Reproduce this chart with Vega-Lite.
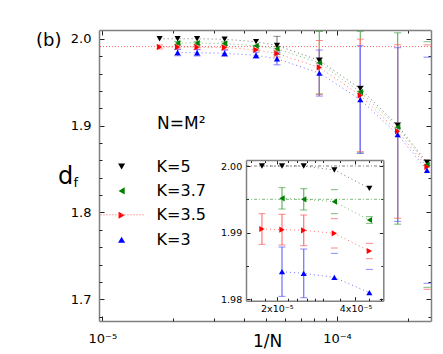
{
  "$schema": "https://vega.github.io/schema/vega-lite/v6.json",
  "width": 332,
  "height": 291,
  "autosize": {"type": "none"},
  "padding": {"left": 99, "top": 30, "right": 12, "bottom": 33},
  "background": "white",
  "config": {
    "view": {"stroke": null},
    "font": "DejaVu Sans",
    "axis": {"grid": false, "labelColor": "black", "tickColor": "#222222", "domainColor": "#808080", "domainWidth": 1.5, "labelFontSize": 13, "titleFontWeight": "normal", "titleColor": "black", "labelFlush": false}
  },
  "title": {"text": "(b)", "anchor": "start", "frame": "group", "orient": "top", "offset": 0, "dx": -63, "dy": 34.5, "baseline": "alphabetic", "fontSize": 18, "fontWeight": "normal", "font": "DejaVu Sans", "color": "black"},
  "datasets": {
    "pts": [
      {"K": "K=5", "x": 1.755e-5, "d": 2.0, "lo": 2.0, "hi": 2.0},
      {"K": "K=5", "x": 2.094e-5, "d": 2.0, "lo": 2.0, "hi": 2.0},
      {"K": "K=5", "x": 2.535e-5, "d": 2.0, "lo": 2.0, "hi": 2.0},
      {"K": "K=5", "x": 3.32e-5, "d": 1.9994, "lo": 1.9994, "hi": 1.9994},
      {"K": "K=5", "x": 4.52e-5, "d": 1.99665, "lo": 1.99665, "hi": 1.99665},
      {"K": "K=5", "x": 5.55e-5, "d": 1.9923, "lo": 1.9818, "hi": 2.0028},
      {"K": "K=5", "x": 8.41e-5, "d": 1.975, "lo": 1.972, "hi": 1.978},
      {"K": "K=5", "x": 1.257e-4, "d": 1.9425, "lo": 1.9395, "hi": 1.9455},
      {"K": "K=5", "x": 1.813e-4, "d": 1.9003, "lo": 1.8973, "hi": 1.9033},
      {"K": "K=5", "x": 2.418e-4, "d": 1.8575, "lo": 1.8545, "hi": 1.8605},
      {"K": "K=3.7", "x": 2.094e-5, "d": 1.99515, "lo": 1.99355, "hi": 1.99675},
      {"K": "K=3.7", "x": 2.535e-5, "d": 1.995, "lo": 1.9934, "hi": 1.9966},
      {"K": "K=3.7", "x": 3.32e-5, "d": 1.99465, "lo": 1.99285, "hi": 1.99645},
      {"K": "K=3.7", "x": 4.52e-5, "d": 1.9919, "lo": 1.9914, "hi": 1.9924},
      {"K": "K=3.7", "x": 5.55e-5, "d": 1.9885, "lo": 1.986, "hi": 1.991},
      {"K": "K=3.7", "x": 8.41e-5, "d": 1.9724, "lo": 1.9364, "hi": 2.0084},
      {"K": "K=3.7", "x": 1.257e-4, "d": 1.9386, "lo": 1.8686, "hi": 2.0086},
      {"K": "K=3.7", "x": 1.813e-4, "d": 1.8984, "lo": 1.7865, "hi": 2.0069},
      {"K": "K=3.7", "x": 2.418e-4, "d": 1.8552, "lo": 1.7138, "hi": 1.9966},
      {"K": "K=3.5", "x": 1.755e-5, "d": 1.99055, "lo": 1.98825, "hi": 1.99285},
      {"K": "K=3.5", "x": 2.094e-5, "d": 1.99045, "lo": 1.98815, "hi": 1.99275},
      {"K": "K=3.5", "x": 2.535e-5, "d": 1.99035, "lo": 1.98805, "hi": 1.99265},
      {"K": "K=3.5", "x": 3.32e-5, "d": 1.9899, "lo": 1.9877, "hi": 1.9921},
      {"K": "K=3.5", "x": 4.52e-5, "d": 1.98725, "lo": 1.9861, "hi": 1.9884},
      {"K": "K=3.5", "x": 5.55e-5, "d": 1.983, "lo": 1.979, "hi": 1.987},
      {"K": "K=3.5", "x": 8.41e-5, "d": 1.967, "lo": 1.936, "hi": 1.998},
      {"K": "K=3.5", "x": 1.257e-4, "d": 1.9348, "lo": 1.87, "hi": 1.9996},
      {"K": "K=3.5", "x": 1.813e-4, "d": 1.8934, "lo": 1.7934, "hi": 1.9931},
      {"K": "K=3.5", "x": 2.418e-4, "d": 1.8524, "lo": 1.7115, "hi": 1.993},
      {"K": "K=3", "x": 2.094e-5, "d": 1.98415, "lo": 1.98045, "hi": 1.98785},
      {"K": "K=3", "x": 2.535e-5, "d": 1.9839, "lo": 1.98025, "hi": 1.98755},
      {"K": "K=3", "x": 3.32e-5, "d": 1.9833, "lo": 1.9797, "hi": 1.9869},
      {"K": "K=3", "x": 4.52e-5, "d": 1.981, "lo": 1.9775, "hi": 1.9845},
      {"K": "K=3", "x": 5.55e-5, "d": 1.977, "lo": 1.97, "hi": 1.984},
      {"K": "K=3", "x": 8.41e-5, "d": 1.9605, "lo": 1.934, "hi": 1.987},
      {"K": "K=3", "x": 1.257e-4, "d": 1.93, "lo": 1.868, "hi": 1.992},
      {"K": "K=3", "x": 1.813e-4, "d": 1.8897, "lo": 1.7897, "hi": 1.9897},
      {"K": "K=3", "x": 2.418e-4, "d": 1.8486, "lo": 1.7184, "hi": 1.9788}
    ],
    "fitMain": [
      {"K": "K=3.5", "f": 1.991, "series": "K=3.5"}
    ],
    "fitInset": [
      {"K": "K=5", "f": 2.0},
      {"K": "K=3.7", "f": 1.995}
    ],
    "note": [
      {"label": "N=M²"}
    ]
  },
  "resolve": {"scale": {"x": "independent", "y": "independent"}},
  "layer": [
    {
      "data": {"name": "pts"},
      "resolve": {"axis": {"x": "independent", "y": "independent"}},
      "layer": [
        {
          "data": {"name": "fitMain"},
          "mark": {"type": "rule", "strokeWidth": 1, "strokeOpacity": 0.6},
          "encoding": {
            "y": {"field": "f", "type": "quantitative", "scale": {"domain": [1.675, 2.0101], "nice": false, "zero": false}, "axis": null},
            "color": {"field": "K", "type": "nominal", "scale": {"domain": ["K=5", "K=3.7", "K=3.5", "K=3"], "range": ["#000000", "#008000", "#ff0000", "#0000ff"]}},
            "strokeDash": {"field": "series", "type": "nominal", "scale": {"domain": ["K=3.5"], "range": [[1, 2]]},
              "legend": {"orient": "none", "legendX": 1, "legendY": 162.3, "title": null, "labelExpr": "''", "symbolType": "stroke", "symbolSize": 1936, "symbolStrokeColor": "#ff6060", "symbolStrokeWidth": 1, "padding": 0}}
          }
        },
        {
          "mark": {"type": "line", "strokeDash": [1, 3], "strokeWidth": 1, "strokeOpacity": 0.55},
          "encoding": {
            "x": {"field": "x", "type": "quantitative", "scale": {"type": "log", "domain": [9.683e-6, 2.5146e-4], "nice": false},
              "axis": {"orient": "bottom", "values": [1e-5, 1e-4], "labelExpr": "datum.value < 5e-5 ? '10⁻⁵' : '10⁻⁴'", "tickSize": -5, "labelPadding": 26, "labelBaseline": "alphabetic", "labelAlign": "center", "labelFontSize": 13, "title": "1/N", "titleFontSize": 17, "titleX": 168, "titleY": 25, "titleBaseline": "alphabetic", "titleAlign": "center"}},
            "y": {"field": "d", "type": "quantitative", "scale": {"domain": [1.675, 2.0101], "nice": false, "zero": false},
              "axis": {"orient": "left", "values": [1.7, 1.8, 1.9, 2.0], "format": ".1f", "tickSize": -5, "labelPadding": 13, "labelFontSize": 13, "labelAlign": "right", "labelBaseline": "middle", "title": "d", "titleFontSize": 24, "titleAngle": 0, "titleX": -34, "titleY": 153, "titleAlign": "center", "titleBaseline": "alphabetic"}},
            "color": {"field": "K", "type": "nominal", "scale": {"domain": ["K=5", "K=3.7", "K=3.5", "K=3"], "range": ["#000000", "#008000", "#ff0000", "#0000ff"]}}
          }
        },
        {
          "transform": [{"filter": "datum.x < 2.2e-4"}],
          "mark": {"type": "rule", "strokeWidth": 1.3},
          "encoding": {
            "x": {"field": "x", "type": "quantitative", "scale": {"type": "log", "domain": [9.683e-6, 2.5146e-4], "nice": false},
              "axis": {"orient": "bottom", "values": [2e-5, 3e-5, 4e-5, 5e-5, 6e-5, 7e-5, 8e-5, 9e-5, 2e-4], "tickSize": -3, "labels": false, "domain": false, "title": null}},
            "y": {"field": "lo", "type": "quantitative", "scale": {"domain": [1.675, 2.0101], "nice": false, "zero": false},
              "axis": {"orient": "left", "values": [1.68, 1.72, 1.74, 1.76, 1.78, 1.82, 1.84, 1.86, 1.88, 1.92, 1.94, 1.96, 1.98], "tickSize": -3, "labels": false, "domain": false, "title": "f", "titleFontSize": 13, "titleAngle": 0, "titleX": -26, "titleY": 156, "titleAlign": "left", "titleBaseline": "alphabetic"}},
            "y2": {"field": "hi"},
            "stroke": {"field": "K", "type": "nominal", "scale": {"domain": ["K=3", "K=3.5", "K=3.7", "K=5"], "range": ["#7a7aff", "#ff8080", "#70bb70", "#909090"]}, "legend": null}
          }
        },
        {
          "transform": [{"filter": "datum.hi > datum.lo"}],
          "mark": {"type": "tick", "orient": "horizontal", "size": 7, "thickness": 1},
          "encoding": {
            "x": {"field": "x", "type": "quantitative", "scale": {"type": "log", "domain": [9.683e-6, 2.5146e-4], "nice": false}, "axis": null},
            "y": {"field": "lo", "type": "quantitative", "scale": {"domain": [1.675, 2.0101], "nice": false, "zero": false}, "axis": null},
            "fill": {"field": "K", "type": "nominal", "scale": {"domain": ["K=3", "K=3.5", "K=3.7", "K=5"], "range": ["#5555ff", "#ff5555", "#3f9f3f", "#555555"]}, "legend": null}
          }
        },
        {
          "transform": [{"filter": "datum.hi > datum.lo"}],
          "mark": {"type": "tick", "orient": "horizontal", "size": 7, "thickness": 1},
          "encoding": {
            "x": {"field": "x", "type": "quantitative", "scale": {"type": "log", "domain": [9.683e-6, 2.5146e-4], "nice": false}, "axis": null},
            "y": {"field": "hi", "type": "quantitative", "scale": {"domain": [1.675, 2.0101], "nice": false, "zero": false}, "axis": null},
            "fill": {"field": "K", "type": "nominal", "scale": {"domain": ["K=3", "K=3.5", "K=3.7", "K=5"], "range": ["#5555ff", "#ff5555", "#3f9f3f", "#555555"]}, "legend": null}
          }
        },
        {
          "mark": {"type": "point", "filled": true, "size": 38, "opacity": 1},
          "encoding": {
            "x": {"field": "x", "type": "quantitative", "scale": {"type": "log", "domain": [9.683e-6, 2.5146e-4], "nice": false},
              "axis": {"orient": "top", "values": [1e-5, 2e-5, 3e-5, 4e-5, 5e-5, 6e-5, 7e-5, 8e-5, 9e-5, 1e-4, 2e-4], "labels": false, "title": null,
                "tickSize": {"condition": {"test": "abs(log(datum.value)/LN10 - round(log(datum.value)/LN10)) < 0.01", "value": -5}, "value": -3}}},
            "y": {"field": "d", "type": "quantitative", "scale": {"domain": [1.675, 2.0101], "nice": false, "zero": false},
              "axis": {"orient": "right", "values": [1.68, 1.7, 1.72, 1.74, 1.76, 1.78, 1.8, 1.82, 1.84, 1.86, 1.88, 1.9, 1.92, 1.94, 1.96, 1.98, 2.0], "labels": false, "title": null,
                "tickSize": {"condition": {"test": "abs(datum.value*10 - round(datum.value*10)) < 0.001", "value": -5}, "value": -3}}},
            "color": {"field": "K", "type": "nominal", "scale": {"domain": ["K=5", "K=3.7", "K=3.5", "K=3"], "range": ["#000000", "#008000", "#ff0000", "#0000ff"]},
              "legend": {"orient": "none", "legendX": 14.6, "legendY": 128.5, "title": null, "labelFontSize": 16, "labelColor": "black", "symbolSize": 50, "rowPadding": 8.4, "labelOffset": 27, "padding": 0, "symbolStrokeWidth": 0, "symbolOpacity": 1}},
            "shape": {"field": "K", "type": "nominal", "scale": {"domain": ["K=5", "K=3.7", "K=3.5", "K=3"], "range": ["triangle-down", "triangle-left", "triangle-right", "triangle-up"]},
              "legend": {"orient": "none", "legendX": 14.6, "legendY": 128.5, "title": null, "labelFontSize": 16, "labelColor": "black", "symbolSize": 50, "rowPadding": 8.4, "labelOffset": 27, "padding": 0, "symbolStrokeWidth": 0, "symbolOpacity": 1}}
          }
        },
        {
          "data": {"name": "note"},
          "mark": {"type": "text", "fontSize": 17, "align": "center", "baseline": "middle", "color": "black"},
          "encoding": {
            "text": {"field": "label", "type": "nominal"},
            "x": {"datum": 2.17e-5, "type": "quantitative", "scale": {"type": "log", "domain": [9.683e-6, 2.5146e-4], "nice": false}, "axis": null},
            "y": {"datum": 1.9015, "type": "quantitative", "scale": {"domain": [1.675, 2.0101], "nice": false, "zero": false}, "axis": null}
          }
        }
      ]
    },
    {
      "data": {"name": "pts"},
      "resolve": {"axis": {"x": "independent", "y": "independent"}},
      "layer": [
        {
          "data": {"name": "fitInset"},
          "mark": {"type": "rule", "strokeWidth": 1, "strokeOpacity": 0.5, "strokeDash": [3, 2, 1, 2]},
          "encoding": {
            "x": {"datum": 1.525e-5, "type": "quantitative", "scale": {"type": "log", "domain": [1.525e-5, 5.11e-5], "range": [147, 284.3], "nice": false}, "axis": null},
            "x2": {"datum": 5.11e-5},
            "y": {"field": "f", "type": "quantitative", "scale": {"domain": [1.9798, 2.0009], "range": [270.7, 130], "nice": false, "zero": false}, "axis": null},
            "color": {"field": "K", "type": "nominal", "scale": {"domain": ["K=5", "K=3.7", "K=3.5", "K=3"], "range": ["#000000", "#008000", "#ff0000", "#0000ff"]}}
          }
        },
        {
          "transform": [{"filter": "datum.x < 5.2e-5"}],
          "mark": {"type": "line", "strokeDash": [1, 3], "strokeWidth": 1, "strokeOpacity": 0.55},
          "encoding": {
            "x": {"field": "x", "type": "quantitative", "scale": {"type": "log", "domain": [1.525e-5, 5.11e-5], "range": [147, 284.3], "nice": false},
              "axis": {"orient": "bottom", "offset": -20.3, "values": [2e-5, 4e-5], "labelExpr": "datum.value < 3e-5 ? '2x10⁻⁵' : '4x10⁻⁵'", "tickSize": -4, "labelPadding": 15, "labelBaseline": "alphabetic", "labelAlign": "center", "labelFontSize": 9.5, "title": null}},
            "y": {"field": "d", "type": "quantitative", "scale": {"domain": [1.9798, 2.0009], "range": [270.7, 130], "nice": false, "zero": false},
              "axis": {"orient": "left", "offset": -147, "values": [1.98, 1.99, 2.0], "format": ".2f", "tickSize": -4, "labelPadding": 8.3, "labelFontSize": 9.5, "labelAlign": "right", "labelBaseline": "middle", "title": null}},
            "color": {"field": "K", "type": "nominal", "scale": {"domain": ["K=5", "K=3.7", "K=3.5", "K=3"], "range": ["#000000", "#008000", "#ff0000", "#0000ff"]}}
          }
        },
        {
          "transform": [{"filter": "datum.x < 3e-5"}],
          "mark": {"type": "rule", "strokeWidth": 1.3},
          "encoding": {
            "x": {"field": "x", "type": "quantitative", "scale": {"type": "log", "domain": [1.525e-5, 5.11e-5], "range": [147, 284.3], "nice": false},
              "axis": {"orient": "bottom", "offset": -20.3, "values": [1.6e-5, 1.8e-5, 2.2e-5, 2.4e-5, 2.6e-5, 2.8e-5, 3e-5, 3.5e-5, 4.5e-5, 5e-5], "tickSize": -2.5, "labels": false, "domain": false, "title": null}},
            "y": {"field": "lo", "type": "quantitative", "scale": {"domain": [1.9798, 2.0009], "range": [270.7, 130], "nice": false, "zero": false},
              "axis": {"orient": "left", "offset": -147, "values": [1.985, 1.995], "tickSize": -2.5, "labels": false, "domain": false, "title": null}},
            "y2": {"field": "hi"},
            "stroke": {"field": "K", "type": "nominal", "scale": {"domain": ["K=3", "K=3.5", "K=3.7", "K=5"], "range": ["#7a7aff", "#ff8080", "#70bb70", "#909090"]}, "legend": null}
          }
        },
        {
          "transform": [{"filter": "datum.x < 5.2e-5 && datum.hi > datum.lo && datum.lo >= 1.9798"}],
          "mark": {"type": "tick", "orient": "horizontal", "size": 7, "thickness": 1},
          "encoding": {
            "x": {"field": "x", "type": "quantitative", "scale": {"type": "log", "domain": [1.525e-5, 5.11e-5], "range": [147, 284.3], "nice": false}, "axis": null},
            "y": {"field": "lo", "type": "quantitative", "scale": {"domain": [1.9798, 2.0009], "range": [270.7, 130], "nice": false, "zero": false}, "axis": null},
            "fill": {"field": "K", "type": "nominal", "scale": {"domain": ["K=3", "K=3.5", "K=3.7", "K=5"], "range": ["#5555ff", "#ff5555", "#3f9f3f", "#555555"]}, "legend": null}
          }
        },
        {
          "transform": [{"filter": "datum.x < 5.2e-5 && datum.hi > datum.lo && datum.hi <= 2.0009"}],
          "mark": {"type": "tick", "orient": "horizontal", "size": 7, "thickness": 1},
          "encoding": {
            "x": {"field": "x", "type": "quantitative", "scale": {"type": "log", "domain": [1.525e-5, 5.11e-5], "range": [147, 284.3], "nice": false}, "axis": null},
            "y": {"field": "hi", "type": "quantitative", "scale": {"domain": [1.9798, 2.0009], "range": [270.7, 130], "nice": false, "zero": false}, "axis": null},
            "fill": {"field": "K", "type": "nominal", "scale": {"domain": ["K=3", "K=3.5", "K=3.7", "K=5"], "range": ["#5555ff", "#ff5555", "#3f9f3f", "#555555"]}, "legend": null}
          }
        },
        {
          "transform": [{"filter": "datum.x < 5.2e-5"}],
          "mark": {"type": "point", "filled": true, "size": 38, "opacity": 1},
          "encoding": {
            "x": {"field": "x", "type": "quantitative", "scale": {"type": "log", "domain": [1.525e-5, 5.11e-5], "range": [147, 284.3], "nice": false},
              "axis": {"orient": "top", "offset": -130, "values": [1.6e-5, 1.8e-5, 2e-5, 2.2e-5, 2.4e-5, 2.6e-5, 2.8e-5, 3e-5, 3.5e-5, 4e-5, 4.5e-5, 5e-5], "labels": false, "title": null,
                "tickSize": {"condition": {"test": "abs(datum.value/1e-5 - 2) < 0.01 || abs(datum.value/1e-5 - 4) < 0.01", "value": -4}, "value": -2.5}}},
            "y": {"field": "d", "type": "quantitative", "scale": {"domain": [1.9798, 2.0009], "range": [270.7, 130], "nice": false, "zero": false},
              "axis": {"orient": "right", "offset": -47.7, "values": [1.98, 1.985, 1.99, 1.995, 2.0], "labels": false, "title": null,
                "tickSize": {"condition": {"test": "abs(datum.value*100 - round(datum.value*100)) < 0.01", "value": -4}, "value": -2.5}}},
            "color": {"field": "K", "type": "nominal", "scale": {"domain": ["K=5", "K=3.7", "K=3.5", "K=3"], "range": ["#000000", "#008000", "#ff0000", "#0000ff"]}},
            "shape": {"field": "K", "type": "nominal", "scale": {"domain": ["K=5", "K=3.7", "K=3.5", "K=3"], "range": ["triangle-down", "triangle-left", "triangle-right", "triangle-up"]}}
          }
        }
      ]
    }
  ]
}
